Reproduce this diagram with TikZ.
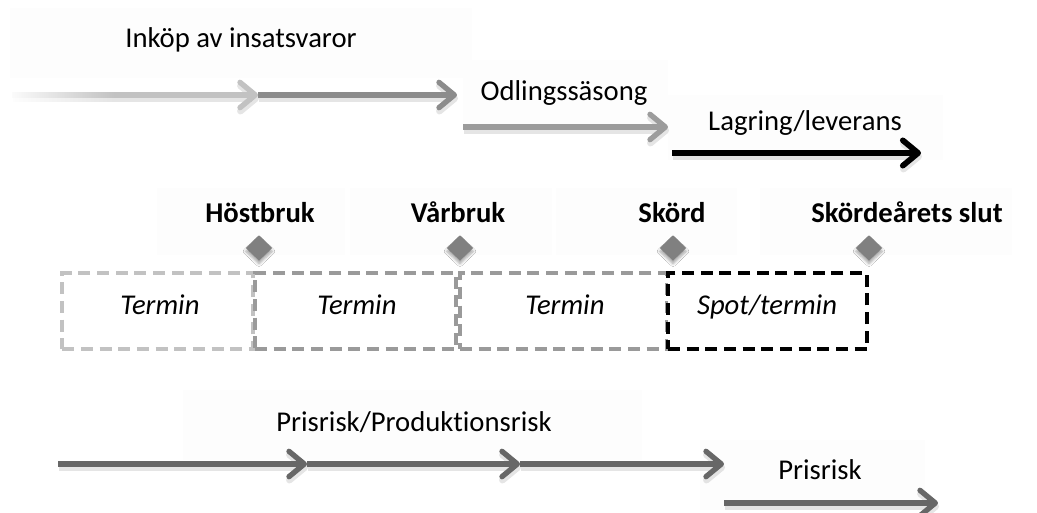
\documentclass[tikz,border=0pt]{standalone}
\usepackage{fontspec}
\setmainfont{Carlito}[Ligatures=NoCommon]
\usetikzlibrary{arrows.meta,shapes.geometric,fadings,shadows.blur}
\definecolor{cLight}{HTML}{C2C2C2}
\definecolor{cMid}{HTML}{8C8C8C}
\definecolor{cBox}{HTML}{9A9A9A}
\definecolor{cOdl}{HTML}{9C9C9C}
\definecolor{cDark}{HTML}{676767}
\definecolor{cBg}{HTML}{FDFDFD}
\tikzfading[name=myfadeR, left color=transparent!0, right color=transparent!100]
\tikzset{
  chev/.tip={Straight Barb[length=11.5pt,width=19pt,line cap=round,line join=round]},
  arrw/.style={line width=4pt, arrows={-chev}},
  shd/.style={line width=5pt, draw=black, draw opacity=0.10, arrows={-chev}, transform canvas={shift={(0.8pt,-2.6pt)}}},
  lbl/.style={font=\fontsize{21.5}{25}\selectfont, inner sep=0pt, anchor=base},
  blbl/.style={font=\fontsize{21.5}{25}\selectfont\bfseries, inner sep=0pt, anchor=base},
  tlbl/.style={font=\fontsize{21.5}{25}\selectfont\itshape, inner sep=0pt, anchor=base},
  bgbox/.style={fill=cBg, draw=none},
  dbox/.style={dashed, dash pattern=on 9pt off 5pt, line width=3pt, fill=white, minimum height=57pt, inner sep=0pt},
  dmd/.style={diamond, fill=gray, minimum width=20pt, minimum height=19pt, inner sep=0pt, blur shadow={shadow xshift=0pt, shadow yshift=-2.5pt, shadow blur steps=6, shadow opacity=35}},
}
\begin{document}
\begin{tikzpicture}[x=0.75pt,y=-0.75pt]
\useasboundingbox (0,0) rectangle (1037,513);
\fill[white] (0,0) rectangle (1037,513);
% faint text-box backgrounds
\fill[bgbox] (10,8) rectangle (472,78);
\fill[bgbox] (463,60) rectangle (668,125);
\fill[bgbox] (668,95) rectangle (943,160);
\fill[bgbox] (157,188) rectangle (345,255);
\fill[bgbox] (350,188) rectangle (552,255);
\fill[bgbox] (556,188) rectangle (737,255);
\fill[bgbox] (760,188) rectangle (1012,255);
\fill[bgbox] (183,390) rectangle (642,460);
\fill[bgbox] (700,440) rectangle (925,510);

% labels (top)
\node[lbl] (tInk) at (241,48) {Inköp av insatsvaror};
\node[lbl] (tOdl) at (564,101) {Odlingssäsong};
\node[lbl] (tLag) at (805,131) {Lagring/leverans};

% top arrow coordinates
\coordinate (a0) at (12,95);
\coordinate (a1) at (258,95);
\coordinate (a2) at (457,95);
\coordinate (o0) at (463,127);
\coordinate (o1) at (668,127);
\coordinate (l0) at (672,153);
\coordinate (l1) at (921,153);

\draw[shd] (a0) -- (a1);
\draw[shd] (a1) -- (a2);
\draw[shd] (o0) -- (o1);
\draw[shd] (l0) -- (l1);
\draw[arrw, draw=cMid] (a1) -- (a2);
\draw[arrw, draw=cLight] (a0) -- (a1);
\fill[white, path fading=myfadeR] (6,86) rectangle (115,106);
\draw[arrw, draw=cOdl] (o0) -- (o1);
\draw[arrw, draw=black, line width=4.3pt] (l0) -- (l1);

% milestones
\node[blbl] (hb) at (260,223) {Höstbruk};
\node[blbl] (vb) at (458,223) {Vårbruk};
\node[blbl] (sk) at (672,223) {Skörd};
\node[blbl] (ss) at (907,223) {Skördeårets slut};
\node[dmd] (d1) at (259,248) {};
\node[dmd] (d2) at (460,248) {};
\node[dmd] (d3) at (673,248) {};
\node[dmd] (d4) at (869,248) {};

% dashed boxes
\node[dbox, draw=cLight, minimum width=143pt] (b1) at (157.5,311) {};
\node[dbox, draw=cBox, minimum width=150.75pt] (b2) at (355.5,311) {};
\node[dbox, draw=cBox, minimum width=155.25pt] (b3) at (563.5,311) {};
\node[dbox, draw=black, line width=3.6pt, minimum width=149.25pt] (b4) at (767.5,311) {};
\node[tlbl] (t1) at (160,314) {Termin};
\node[tlbl] (t2) at (357,314) {Termin};
\node[tlbl] (t3) at (565,314) {Termin};
\node[tlbl] (t4) at (767,314) {Spot/termin};

% bottom
\node[lbl] (tPP) at (414,431) {Prisrisk/Produktionsrisk};
\node[lbl] (tPr) at (820,479) {Prisrisk};
\coordinate (p0) at (58,464);
\coordinate (p1) at (307,464);
\coordinate (p2) at (520,464);
\coordinate (p3) at (724,464);
\coordinate (q0) at (724,503);
\coordinate (q1) at (938,503);
\draw[shd] (p0) -- (p1);
\draw[shd] (p1) -- (p2);
\draw[shd] (p2) -- (p3);
\draw[shd] (q0) -- (q1);
\draw[arrw, draw=cDark] (p0) -- (p1);
\draw[arrw, draw=cDark] (p1) -- (p2);
\draw[arrw, draw=cDark] (p2) -- (p3);
\draw[arrw, draw=cDark] (q0) -- (q1);
\end{tikzpicture}
\end{document}
